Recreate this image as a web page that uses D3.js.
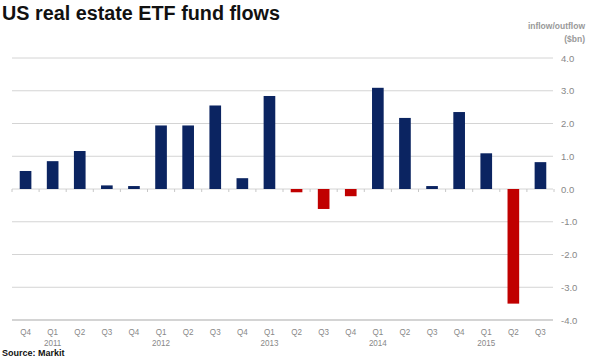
<!DOCTYPE html>
<html>
<head>
<meta charset="utf-8">
<script src="https://cdn.jsdelivr.net/npm/d3@7"></script>
<style>
  body { margin: 0; background: #fff; }
  svg { display: block; font-family: Arial, "Liberation Sans", sans-serif; }
</style>
</head>
<body>
<div id="chart"></div>
<script>
const quarters = ["Q4", "Q1", "Q2", "Q3", "Q4", "Q1", "Q2", "Q3", "Q4", "Q1",
  "Q2", "Q3", "Q4", "Q1", "Q2", "Q3", "Q4", "Q1", "Q2", "Q3"];
const years = ["", "2011", "", "", "", "2012", "", "", "", "2013",
  "", "", "", "2014", "", "", "", "2015", "", ""];
const flows = [0.55, 0.85, 1.16, 0.11, 0.09, 1.94, 1.94, 2.55, 0.33, 2.84,
  -0.10, -0.61, -0.22, 3.09, 2.17, 0.09, 2.35, 1.09, -3.50, 0.82];
const yTicks = [4, 3, 2, 1, 0, -1, -2, -3, -4];

const width = 590;
const height = 363;

const svg = d3.select("#chart")
  .append("svg")
  .attr("width", width)
  .attr("height", height);

const x = d3.scaleBand()
  .domain(d3.range(flows.length))
  .range([12, 554])
  .paddingInner(0.57)
  .paddingOuter(0.285);

const y = d3.scaleLinear()
  .domain([-4, 4])
  .range([320, 58]);

// title
svg.append("text")
  .attr("x", 2)
  .attr("y", 20)
  .attr("font-size", 20)
  .attr("font-weight", "bold")
  .attr("textLength", 278)
  .attr("lengthAdjust", "spacingAndGlyphs")
  .attr("fill", "#111")
  .text("US real estate ETF fund flows");

// unit
svg.append("text")
  .attr("x", 585).attr("y", 29)
  .attr("text-anchor", "end")
  .attr("font-size", 8.5)
  .attr("font-weight", "bold")
  .attr("fill", "#999")
  .text("inflow/outflow");
svg.append("text")
  .attr("x", 585).attr("y", 42)
  .attr("text-anchor", "end")
  .attr("font-size", 8.5)
  .attr("font-weight", "bold")
  .attr("fill", "#999")
  .text("($bn)");

// grid
svg.append("g")
  .selectAll("line")
  .data(yTicks)
  .join("line")
  .attr("x1", 12)
  .attr("x2", 553)
  .attr("y1", d => y(d))
  .attr("y2", d => y(d))
  .attr("stroke", "#d4d4d4")
  .attr("stroke-width", d => d === -4 ? 2 : 1);

svg.append("g")
  .selectAll("text")
  .data(yTicks)
  .join("text")
  .attr("x", 561)
  .attr("y", d => y(d) + 3.5)
  .attr("font-size", 9.5)
  .attr("fill", "#888")
  .text(d => d3.format(".1f")(d).replace("−", "-"));

// small ticks on the zero line
const step = x.step();
svg.append("g")
  .selectAll("line")
  .data(d3.range(flows.length + 1))
  .join("line")
  .attr("x1", i => 12 + i * step)
  .attr("x2", i => 12 + i * step)
  .attr("y1", y(0))
  .attr("y2", y(0) + 3)
  .attr("stroke", "#c8c8c8");

// bars
svg.append("g")
  .selectAll("rect")
  .data(flows)
  .join("rect")
  .attr("x", (d, i) => x(i))
  .attr("width", x.bandwidth())
  .attr("y", d => y(Math.max(0, d)))
  .attr("height", d => Math.abs(y(d) - y(0)))
  .attr("fill", d => d >= 0 ? "#0b2461" : "#c00000");

// x labels
const labels = svg.append("g")
  .attr("font-size", 9.5)
  .attr("fill", "#888")
  .attr("text-anchor", "middle");

labels.selectAll(".q")
  .data(quarters)
  .join("text")
  .attr("class", "q")
  .attr("transform", (d, i) => `translate(${x(i) + x.bandwidth() / 2},335) scale(0.85,1)`)
  .text(d => d);

labels.selectAll(".yr")
  .data(years)
  .join("text")
  .attr("class", "yr")
  .attr("transform", (d, i) => `translate(${x(i) + x.bandwidth() / 2},346) scale(0.85,1)`)
  .text(d => d);

// source
svg.append("text")
  .attr("x", 2)
  .attr("y", 356)
  .attr("font-size", 9)
  .attr("font-weight", "bold")
  .attr("fill", "#111")
  .text("Source: Markit");
</script>
</body>
</html>
